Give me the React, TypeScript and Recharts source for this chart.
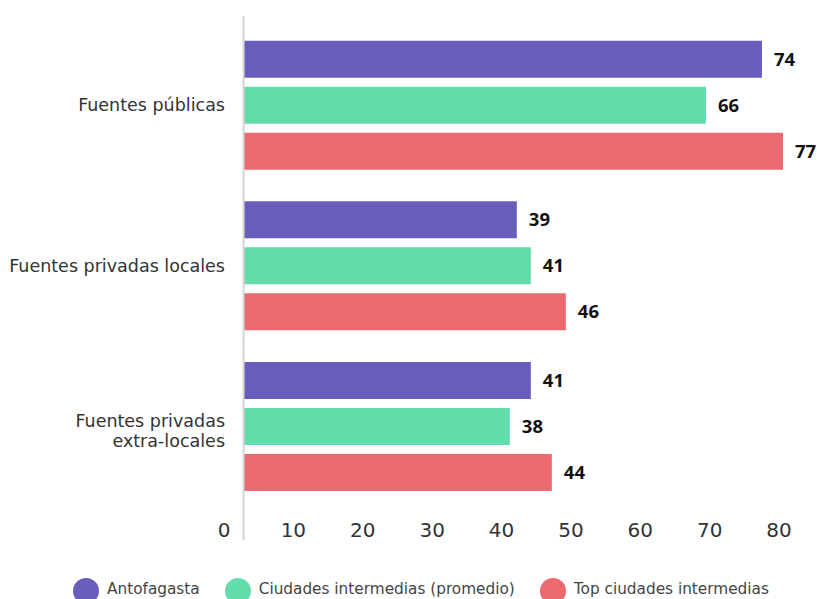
import React from 'react'
import {
  BarChart,
  Bar,
  XAxis,
  YAxis,
  ReferenceLine,
  LabelList,
  Legend,
} from 'recharts'

const categories = [
  'Fuentes públicas',
  'Fuentes privadas locales',
  'Fuentes privadas\nextra-locales',
]
const antofagasta = [74, 39, 41]
const ciudadesPromedio = [66, 41, 38]
const topCiudades = [77, 46, 44]
const xTicks = [0, 10, 20, 30, 40, 50, 60, 70, 80]

const series = [
  { key: 'antofagasta', name: 'Antofagasta', color: '#675EBB' },
  { key: 'promedio', name: 'Ciudades intermedias (promedio)', color: '#62DCAA' },
  { key: 'top', name: 'Top ciudades intermedias', color: '#EC696E' },
]

const data = categories.map((name, i) => ({
  name,
  antofagasta: antofagasta[i],
  promedio: ciudadesPromedio[i],
  top: topCiudades[i],
}))

function CategoryTick({ x, y, payload }: any) {
  const lines = String(payload.value).split('\n')
  const first = 6 - (lines.length - 1) * 5
  return (
    <text x={x + 1} y={y} textAnchor="end" fill="#333" fontSize={17.5}>
      {lines.map((line, i) => (
        <tspan key={i} x={x + 1} dy={i === 0 ? first : 20}>
          {line}
        </tspan>
      ))}
    </text>
  )
}

// tick numbers sit just above the bottom of the plot area
function ValueTick({ x, y, payload }: any) {
  return (
    <text x={x} y={y - 13} textAnchor="middle" fill="#333" fontSize={20}>
      {payload.value}
    </text>
  )
}

function LegendContent() {
  return (
    <div style={{ display: 'flex', alignItems: 'center', paddingLeft: 73 }}>
      {series.map((s) => (
        <div key={s.key} style={{ display: 'flex', alignItems: 'center', marginRight: 25 }}>
          <span
            style={{
              width: 26,
              height: 26,
              borderRadius: 13,
              background: s.color,
              display: 'inline-block',
              marginRight: 8,
            }}
          />
          <span style={{ fontSize: 15.3, color: '#444', position: 'relative', top: -2 }}>
            {s.name}
          </span>
        </div>
      ))}
    </div>
  )
}

export default function App() {
  return (
    <div style={{ position: 'absolute', left: 0, top: 0, fontFamily: '"DejaVu Sans", sans-serif' }}>
      <BarChart
        width={817}
        height={599}
        data={data}
        layout="vertical"
        margin={{ top: 16, right: 13, bottom: 29, left: 0 }}
        barSize={37}
        barGap={9}
      >
        <XAxis xAxisId="main" type="number" domain={[-2.8, 80]} allowDataOverflow hide />
        <XAxis
          xAxisId="ticks"
          type="number"
          domain={[0, 83.6]}
          allowDataOverflow
          ticks={xTicks}
          interval={0}
          axisLine={false}
          tickLine={false}
          tickSize={0}
          tickMargin={-20}
          height={30}
          tick={<ValueTick />}
        />
        <YAxis
          type="category"
          dataKey="name"
          width={224}
          axisLine={false}
          tickLine={false}
          tickSize={0}
          tickMargin={0}
          padding={{ top: 8.7, bottom: 33.5 }}
          tick={<CategoryTick />}
        />
        {series.map((s) => (
          <Bar
            key={s.key}
            xAxisId="main"
            dataKey={s.key}
            name={s.name}
            fill={s.color}
            isAnimationActive={false}
          >
            <LabelList
              dataKey={s.key}
              position="right"
              offset={12}
              fill="#111"
              fontSize={18.5}
              fontWeight="bold"
              fontFamily='"Noto Sans", sans-serif'
            />
          </Bar>
        ))}
        <ReferenceLine xAxisId="main" x={0} stroke="#d4d4d4" strokeWidth={2} />
        <Legend
          layout="horizontal"
          verticalAlign="middle"
          align="center"
          wrapperStyle={{ left: 0, top: 578, width: 817 }}
          content={<LegendContent />}
        />
      </BarChart>
    </div>
  )
}
